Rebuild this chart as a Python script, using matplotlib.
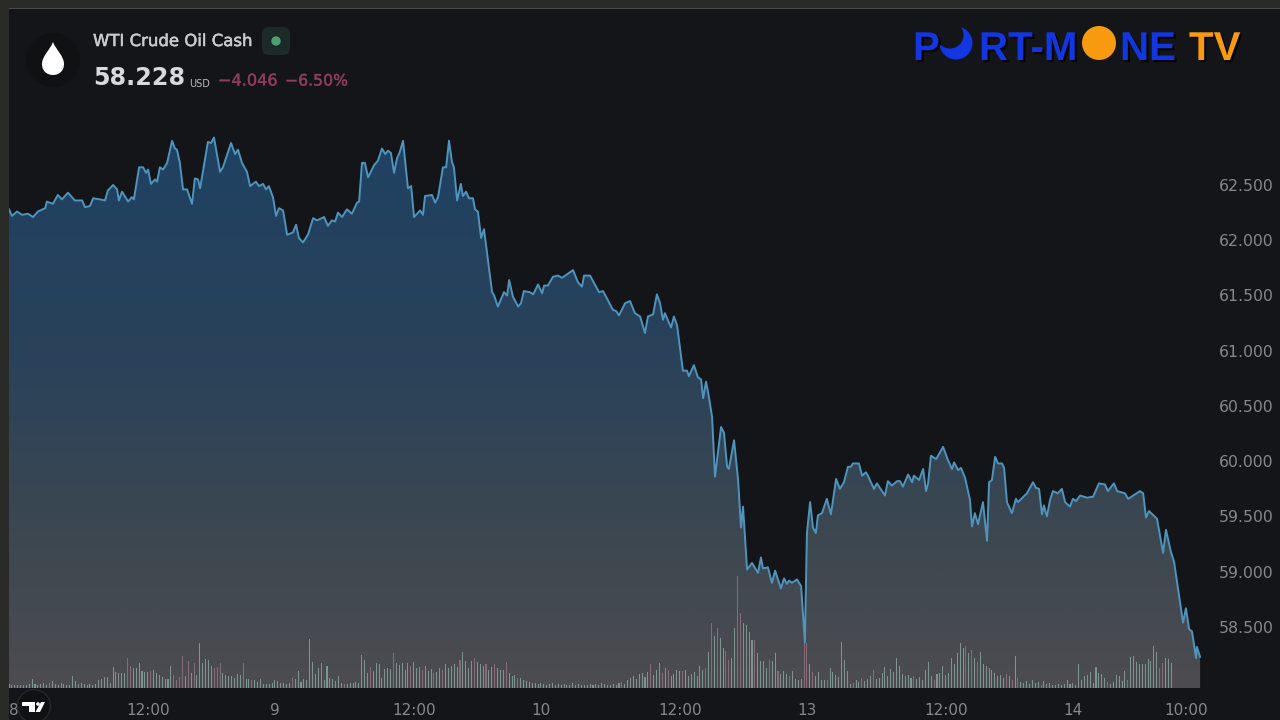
import numpy as np
import matplotlib
matplotlib.use('Agg')
import matplotlib.pyplot as plt
import matplotlib.patheffects as pe
from matplotlib.colors import LinearSegmentedColormap
from matplotlib.patches import Circle, FancyBboxPatch, PathPatch, Polygon, Rectangle
from matplotlib.path import Path

# Price line, x is the 15 minute bar number from the start of the 8th
price_bars = [
    0, 1.0, 2.8, 4.5, 6.6, 8.3, 10.0, 12.5, 13.1, 15.2, 16.9, 18.3, 20.4, 22.8, 25.3, 26.3, 28.0, 29.1, 31.5, 33.2,
    34.2, 36.0, 37.4, 38.0, 39.1, 41.2, 42.5, 43.2, 45.0, 46.4, 47.4, 48.1, 49.1, 50.5, 51.2, 52.2, 53.3, 54.7, 56.4, 57.4,
    58.1, 59.1, 60.2, 61.6, 63.3, 64.3, 65.4, 66.1, 68.8, 69.9, 70.9, 73.0, 74.0, 76.8, 78.2, 79.2, 80.6, 82.3, 83.4, 85.4,
    86.5, 87.9, 88.9, 89.9, 91.3, 92.4, 93.4, 94.8, 96.2, 98.2, 99.3, 100.3, 101.7, 103.4, 105.2, 106.5, 109.0, 110.3, 111.7, 112.8,
    113.8, 115.2, 116.9, 118.6, 120.4, 121.1, 122.1, 123.1, 124.2, 126.3, 127.6, 129.0, 130.1, 131.1, 132.1, 133.2, 134.2, 135.2, 136.3, 138.0,
    139.1, 140.1, 142.2, 143.2, 143.9, 146.3, 147.4, 148.4, 150.1, 151.2, 152.2, 153.2, 153.9, 155.0, 156.3, 157.0, 158.1, 159.1, 160.5, 161.2,
    162.2, 163.3, 164.3, 167.1, 167.8, 169.1, 171.2, 172.3, 173.0, 174.3, 176.1, 177.1, 178.1, 180.2, 181.3, 183.0, 184.4, 185.1, 186.4, 188.2,
    189.9, 191.3, 195.1, 196.8, 198.2, 198.9, 201.0, 204.1, 205.5, 208.9, 210.0, 211.0, 213.1, 214.8, 216.5, 218.3, 220.0, 221.0, 222.8, 224.1,
    225.2, 226.2, 226.9, 229.0, 230.0, 231.1, 233.1, 234.5, 235.2, 236.9, 238.3, 239.4, 240.1, 241.1, 241.8, 243.2, 244.2, 246.3, 247.3, 248.4,
    249.0, 250.8, 252.2, 253.2, 253.9, 255.3, 257.0, 259.1, 260.1, 260.8, 262.5, 263.9, 265.0, 267.0, 268.1, 269.1, 269.8, 270.8, 272.6, 274.0,
    275.3, 276.0, 277.1, 278.1, 279.1, 279.8, 281.2, 282.9, 284.3, 286.1, 287.4, 288.8, 290.2, 291.2, 291.9, 294.0, 295.1, 296.4, 297.1, 299.2,
    300.2, 303.0, 304.0, 305.4, 307.2, 308.2, 309.2, 311.0, 312.4, 313.0, 314.8, 316.2, 317.2, 317.9, 318.9, 320.7, 323.1, 324.8, 326.2, 326.9,
    328.3, 329.3, 330.7, 332.4, 333.1, 334.1, 335.2, 336.9, 338.3, 339.0, 340.0, 341.1, 342.1, 343.5, 344.2, 345.2, 346.9, 348.3, 349.0, 352.1,
    354.2, 355.2, 356.3, 357.3, 358.0, 359.0, 360.1, 361.1, 362.8, 364.2, 365.3, 367.0, 368.0, 369.1, 370.5, 372.9, 375.0, 377.0, 379.1, 380.1,
    382.2, 383.3, 386.0, 387.1, 391.2, 392.3, 393.3, 394.3, 397.1, 399.2, 400.2, 401.9, 403.0, 406.1, 407.1, 408.2, 409.2, 410.6, 410.9, 412.0,
]
prices = [
    62.28, 62.22, 62.26, 62.23, 62.24, 62.21, 62.26, 62.29, 62.35, 62.33, 62.41, 62.37, 62.43, 62.36, 62.36, 62.30, 62.31, 62.38, 62.37, 62.36,
    62.45, 62.50, 62.46, 62.36, 62.44, 62.35, 62.39, 62.37, 62.66, 62.66, 62.61, 62.64, 62.51, 62.55, 62.53, 62.66, 62.64, 62.70, 62.90, 62.83,
    62.82, 62.70, 62.46, 62.46, 62.33, 62.56, 62.55, 62.47, 62.89, 62.88, 62.93, 62.62, 62.66, 62.88, 62.78, 62.82, 62.70, 62.62, 62.49, 62.53,
    62.49, 62.51, 62.46, 62.49, 62.39, 62.22, 62.29, 62.27, 62.05, 62.07, 62.14, 62.02, 61.98, 62.05, 62.20, 62.18, 62.21, 62.13, 62.18, 62.17,
    62.25, 62.21, 62.28, 62.24, 62.34, 62.35, 62.70, 62.70, 62.57, 62.68, 62.72, 62.83, 62.78, 62.81, 62.79, 62.61, 62.74, 62.80, 62.90, 62.47,
    62.49, 62.21, 62.27, 62.23, 62.40, 62.41, 62.34, 62.39, 62.66, 62.66, 62.90, 62.71, 62.66, 62.36, 62.51, 62.40, 62.44, 62.38, 62.38, 62.28,
    62.26, 62.02, 62.10, 61.53, 61.50, 61.40, 61.53, 61.50, 61.64, 61.49, 61.40, 61.43, 61.54, 61.53, 61.51, 61.60, 61.52, 61.59, 61.59, 61.67,
    61.68, 61.66, 61.73, 61.62, 61.58, 61.68, 61.68, 61.53, 61.54, 61.37, 61.36, 61.32, 61.43, 61.45, 61.34, 61.31, 61.16, 61.31, 61.33, 61.51,
    61.43, 61.28, 61.34, 61.21, 61.31, 61.23, 60.82, 60.82, 60.77, 60.87, 60.76, 60.74, 60.57, 60.72, 60.63, 60.40, 59.86, 60.31, 60.26, 59.95,
    59.93, 60.19, 59.83, 59.40, 59.59, 59.02, 59.08, 58.99, 59.13, 59.03, 59.04, 58.90, 59.01, 58.85, 58.94, 58.89, 58.92, 58.90, 58.93, 58.87,
    58.36, 59.35, 59.63, 59.40, 59.35, 59.51, 59.53, 59.66, 59.52, 59.84, 59.75, 59.81, 59.95, 59.95, 59.98, 59.98, 59.87, 59.90, 59.87, 59.75,
    59.80, 59.69, 59.82, 59.78, 59.82, 59.82, 59.77, 59.88, 59.81, 59.87, 59.83, 59.93, 59.73, 59.80, 60.05, 60.02, 60.13, 60.01, 59.93, 59.99,
    59.92, 59.94, 59.85, 59.65, 59.41, 59.53, 59.43, 59.63, 59.28, 59.81, 59.83, 60.04, 59.98, 59.98, 59.94, 59.63, 59.53, 59.66, 59.63, 59.71,
    59.81, 59.76, 59.75, 59.52, 59.60, 59.50, 59.65, 59.73, 59.71, 59.75, 59.63, 59.59, 59.66, 59.64, 59.69, 59.67, 59.68, 59.80, 59.79, 59.73,
    59.80, 59.73, 59.71, 59.66, 59.73, 59.71, 59.49, 59.55, 59.48, 59.17, 59.38, 59.18, 59.09, 58.54, 58.67, 58.48, 58.46, 58.22, 58.32, 58.23,
]

# Volume per bar, no scale on the chart so the unit is relative
volumes = [
    4, 3, 3, 3, 3, 3, 3, 4, 9, 4,
    3, 4, 5, 3, 5, 7, 4, 3, 5, 4,
    3, 3, 12, 7, 4, 5, 4, 3, 4, 3,
    4, 8, 9, 11, 11, 5, 21, 16, 15, 15,
    15, 30, 22, 20, 20, 25, 17, 16, 16, 17,
    18, 15, 13, 11, 9, 9, 22, 13, 8, 11,
    32, 12, 27, 15, 25, 13, 45, 25, 29, 28,
    22, 20, 21, 25, 15, 13, 12, 12, 10, 14,
    13, 25, 9, 9, 8, 8, 6, 9, 4, 4,
    4, 5, 8, 7, 5, 5, 4, 5, 10, 9,
    17, 6, 9, 8, 49, 26, 14, 20, 25, 8,
    22, 10, 9, 7, 12, 5, 4, 4, 5, 5,
    6, 5, 33, 28, 15, 21, 17, 25, 24, 10,
    19, 20, 19, 35, 25, 23, 25, 18, 25, 22,
    26, 20, 21, 18, 22, 17, 19, 15, 16, 20,
    18, 24, 20, 22, 24, 21, 28, 36, 27, 20,
    27, 30, 26, 24, 22, 24, 18, 21, 24, 20,
    18, 18, 26, 15, 12, 13, 10, 10, 8, 7,
    6, 5, 5, 4, 5, 4, 3, 4, 5, 3,
    4, 3, 4, 3, 3, 5, 3, 4, 3, 3,
    3, 4, 3, 4, 3, 5, 4, 3, 3, 4,
    3, 5, 6, 4, 8, 10, 12, 9, 14, 15,
    11, 16, 24, 13, 18, 25, 15, 20, 18, 12,
    14, 18, 17, 17, 18, 12, 14, 16, 12, 22,
    18, 20, 36, 65, 52, 60, 50, 40, 37, 28,
    30, 60, 112, 75, 65, 63, 56, 48, 48, 35,
    27, 27, 20, 28, 27, 35, 17, 14, 17, 14,
    12, 17, 9, 8, 9, 48, 45, 24, 16, 12,
    16, 8, 8, 8, 20, 16, 13, 11, 46, 28,
    17, 4, 5, 8, 6, 10, 7, 9, 12, 18,
    9, 10, 15, 21, 12, 19, 16, 30, 22, 14,
    12, 13, 10, 12, 9, 11, 8, 18, 26, 12,
    8, 14, 15, 22, 13, 15, 30, 24, 35, 45,
    40, 42, 35, 38, 30, 26, 36, 24, 22, 20,
    18, 15, 12, 13, 10, 14, 12, 8, 32, 10,
    6, 5, 7, 4, 8, 5, 6, 3, 7, 4,
    5, 3, 3, 4, 3, 4, 8, 4, 5, 3,
    24, 8, 12, 13, 16, 5, 21, 15, 14, 10,
    6, 4, 6, 13, 12, 7, 17, 8, 31, 32,
    26, 24, 24, 24, 29, 27, 42, 36, 20, 25,
    30, 29, 25,
]
# Bars drawn in the down colour, all the others are up
down_bars = [
    14, 41, 42, 49, 57, 58, 59, 60, 62, 64, 71, 72, 73, 81, 84, 98, 116, 125, 133, 139,
    143, 147, 150, 156, 161, 165, 168, 172, 176, 212, 222, 226, 228, 233, 241, 243, 245, 248, 249, 252,
    253, 258, 263, 266, 270, 275, 276, 278, 283, 292, 295, 299, 313, 320, 331, 333, 335, 345, 347, 349,
    357, 380, 387, 398, 399, 403, 404, 405, 406, 407, 409,
]

x_tick_bars = [0, 48, 92, 140, 184, 232, 276, 324, 368, 407]
x_tick_labels = ['8', '12:00', '9', '12:00', '10', '12:00', '13', '12:00', '14', '10:00']
y_ticks = [58.5, 59.0, 59.5, 60.0, 60.5, 61.0, 61.5, 62.0, 62.5]

BG = '#131518'
STRIP = '#2a2a29'
GREY = '#85888c'
PX_PER_BAR = 2.891
PX_PER_USD = 110.5


def draw_price(fig):
    ax = fig.add_axes([9 / 1280, (720 - 688) / 720, 1200 / 1280, 679 / 720])
    ax.set_facecolor(BG)
    for spine in ax.spines.values():
        spine.set_visible(False)
    y_bottom = 62.5 - (688 - 185) / PX_PER_USD
    y_top = 62.5 + (185 - 9) / PX_PER_USD
    ax.set_xlim(0, 1200 / PX_PER_BAR)
    ax.set_ylim(y_bottom, y_top)

    # gradient under the line
    cmap = LinearSegmentedColormap.from_list(
        'area', [(0, '#4d4c50'), (0.25, '#3e4850'), (0.6, '#2a4259'), (1, '#1f4163')])
    top = max(prices)
    img = ax.imshow(np.linspace(1, 0, 256).reshape(-1, 1), cmap=cmap, aspect='auto', zorder=1,
                    extent=[0, price_bars[-1], y_bottom, top])
    outline = list(zip(price_bars, prices)) + [(price_bars[-1], y_bottom), (0, y_bottom)]
    clip = Polygon(outline, closed=True, transform=ax.transData, facecolor='none', edgecolor='none')
    ax.add_patch(clip)
    img.set_clip_path(clip)

    bar_x = np.arange(len(volumes))
    bar_colors = ['#866c78' if i in down_bars else '#7d958f' for i in bar_x]
    ax.bar(bar_x, np.array(volumes) / PX_PER_USD, bottom=y_bottom, width=0.36, color=bar_colors, zorder=2)
    ax.plot(price_bars, prices, color='#4f94bd', lw=1.4, zorder=3, solid_joinstyle='round')

    ax.set_xticks(x_tick_bars)
    ax.set_xticklabels(x_tick_labels)
    ax.get_xticklabels()[0].set_ha('left')
    ax.yaxis.tick_right()
    ax.set_yticks(y_ticks)
    ax.set_yticklabels([f'{v:.3f}' for v in y_ticks])
    ax.tick_params(axis='x', length=0, pad=11, labelsize=11, labelcolor=GREY)
    ax.tick_params(axis='y', length=0, pad=7, labelsize=11.3, labelcolor=GREY)
    ax.set_xlim(0, 1200 / PX_PER_BAR)
    ax.set_ylim(y_bottom, y_top)


def draw_header(ov):
    # symbol icon
    ov.add_patch(Circle((53, 60), 27, color='#0f1113', lw=0))
    drop = Path([(53, 42), (50, 50), (42, 56), (42, 64), (42, 71), (47, 75), (53, 75),
                 (59, 75), (64, 71), (64, 64), (64, 56), (56, 50), (53, 42)],
                [Path.MOVETO] + [Path.CURVE4] * 12)
    ov.add_patch(PathPatch(drop, facecolor='white', edgecolor='none'))

    thick = [pe.withStroke(linewidth=0.4, foreground='#c9cacc')]
    ov.text(93, 41, 'WTI Crude Oil Cash', color='#c9cacc', fontsize=11.9, va='center', ha='left',
            path_effects=thick)
    ov.add_patch(FancyBboxPatch((262, 27), 28, 28, boxstyle='round,pad=0,rounding_size=7',
                                facecolor='#1c2b27', edgecolor='none'))
    ov.add_patch(Circle((276, 41), 4.7, color='#4f9e70', lw=0))

    ov.text(93, 78, '58.228', color='#d8d9da', fontsize=17.2, fontweight='bold', va='center', ha='left')
    ov.text(189, 84, 'USD', color='#b8babc', fontsize=7, va='center', ha='left')
    pink = [pe.withStroke(linewidth=0.3, foreground='#8f3a62')]
    ov.text(218, 81, '\u22124.046', color='#8f3a62', fontsize=11.6, va='center', ha='left', path_effects=pink)
    ov.text(285, 81, '\u22126.50%', color='#8f3a62', fontsize=11.3, va='center', ha='left', path_effects=pink)


def draw_logo(ov):
    shadow = [pe.withSimplePatchShadow(offset=(1.5, -1.5), shadow_rgbFace='black', alpha=0.9)]
    blue = '#1236e0'
    orange = '#f79a10'
    font = ['Liberation Sans Narrow', 'Liberation Sans']
    for x, word, color in [(913, 'P', blue), (979, 'RT-M', blue), (1120, 'NE', blue), (1189, 'TV', orange)]:
        t = ov.text(x, 60, word, color=color, fontsize=29, fontweight='bold', family=font,
                    ha='left', va='baseline')
        t.set_path_effects(shadow)
    ov.add_patch(Circle((956, 43), 16.5, color=blue, lw=0))
    ov.add_patch(Circle((950, 35), 13.5, color=BG, lw=0))
    ov.add_patch(Circle((1099, 43), 17, color=orange, lw=0))


def draw_tv_badge(ov):
    ov.add_patch(Circle((34, 706), 16.5, facecolor='#0f1113', edgecolor='#25272a', lw=1))
    ov.add_patch(Polygon([(22, 702), (35, 702), (35, 712), (29, 712), (29, 706), (22, 706)], color='white', lw=0))
    ov.add_patch(Circle((38, 704), 1.8, color='white', lw=0))
    ov.add_patch(Polygon([(41, 702), (45, 702), (40, 712), (35.5, 712)], color='white', lw=0))


def main():
    fig = plt.figure(figsize=(12.8, 7.2), dpi=100, facecolor=BG)
    draw_price(fig)

    ov = fig.add_axes([0, 0, 1, 1], zorder=10)
    ov.set_xlim(0, 1280)
    ov.set_ylim(720, 0)
    ov.axis('off')
    ov.add_patch(Rectangle((0, 0), 1280, 8, color=STRIP, lw=0))
    ov.add_patch(Rectangle((0, 8), 1280, 1, color='#4a4a4a', lw=0))
    ov.add_patch(Rectangle((0, 8), 8.5, 712, color=STRIP, lw=0))
    draw_header(ov)
    draw_logo(ov)
    draw_tv_badge(ov)

    fig.savefig('out.png', dpi=100, facecolor=fig.get_facecolor())
    plt.close(fig)


if __name__ == "__main__":
    main()
